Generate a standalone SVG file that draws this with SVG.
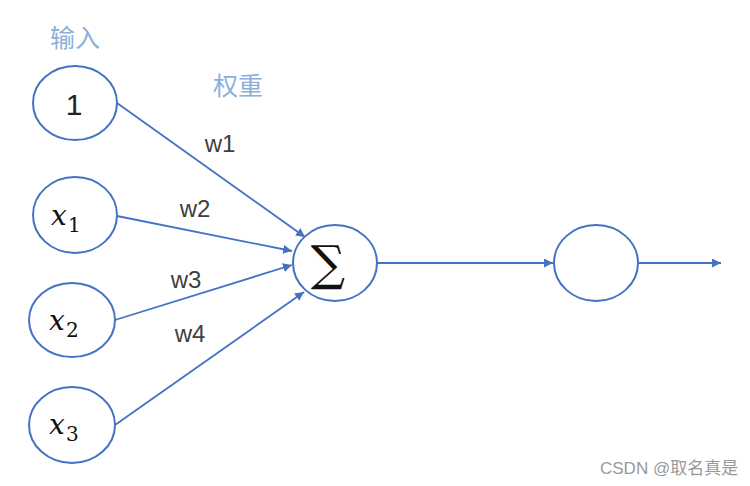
<svg xmlns="http://www.w3.org/2000/svg" width="750" height="486" viewBox="0 0 750 486">
<style>
.n{fill:#fff;stroke:#4472c4;stroke-width:2}
.c{stroke:#4472c4;stroke-width:1.8;fill:none}
.w{font-family:"Liberation Sans",Arial,sans-serif;font-size:24px;fill:#404040;text-anchor:middle}
.h{font-family:"Noto Sans CJK SC",sans-serif;font-size:25px;fill:#8ab0da;text-anchor:middle}
.x{font-family:"DejaVu Serif","Liberation Serif",serif;font-style:italic;font-size:28px;fill:#111}
.s{font-family:"DejaVu Serif","Liberation Serif",serif;font-size:20px;fill:#111}
</style>
<defs>
<marker id="a" viewBox="0 0 10 10" refX="10" refY="5" markerWidth="5" markerHeight="5" orient="auto" markerUnits="strokeWidth">
<path d="M0,0 L10,5 L0,10 z" fill="#4472c4"/>
</marker>
</defs>
<rect width="750" height="486" fill="#fff"/>
<text class="h" x="75" y="47">输入</text>
<text class="h" x="238" y="95">权重</text>
<g id="connectors">
<line class="c" x1="117" y1="103" x2="305" y2="237" marker-end="url(#a)"/>
<line class="c" x1="117" y1="216" x2="292" y2="251" marker-end="url(#a)"/>
<line class="c" x1="115" y1="320" x2="292" y2="265" marker-end="url(#a)"/>
<line class="c" x1="115" y1="425" x2="304" y2="292" marker-end="url(#a)"/>
<line class="c" x1="377" y1="263" x2="553" y2="263" marker-end="url(#a)"/>
<line class="c" x1="639" y1="263" x2="721" y2="263" marker-end="url(#a)"/>
</g>
<text class="w" x="220" y="152">w1</text>
<text class="w" x="195" y="217">w2</text>
<text class="w" x="186" y="288">w3</text>
<text class="w" x="190" y="342">w4</text>
<g id="n1"><ellipse class="n" cx="75" cy="103" rx="42" ry="37"/><text x="74" y="115" font-family="Liberation Sans,Arial,sans-serif" font-size="30" fill="#222" text-anchor="middle">1</text></g>
<g id="nx1"><ellipse class="n" cx="75" cy="215" rx="42" ry="38"/><text class="x" x="51" y="225">x</text><text class="s" x="68" y="232">1</text></g>
<g id="nx2"><ellipse class="n" cx="72" cy="320" rx="43" ry="37"/><text class="x" x="49" y="330">x</text><text class="s" x="66" y="337">2</text></g>
<g id="nx3"><ellipse class="n" cx="72" cy="425" rx="43" ry="38"/><text class="x" x="49" y="434">x</text><text class="s" x="66" y="441">3</text></g>
<g id="sum"><ellipse class="n" cx="335" cy="263" rx="42" ry="38"/><text x="328" y="280" font-family="DejaVu Serif,serif" font-size="48" fill="#111" text-anchor="middle">∑</text></g>
<g id="out"><ellipse class="n" cx="596" cy="263" rx="42" ry="38"/></g>
<text x="600" y="474" font-family="Liberation Sans,'Noto Sans CJK SC',sans-serif" font-size="17" fill="#999">CSDN @取名真是</text>
</svg>
